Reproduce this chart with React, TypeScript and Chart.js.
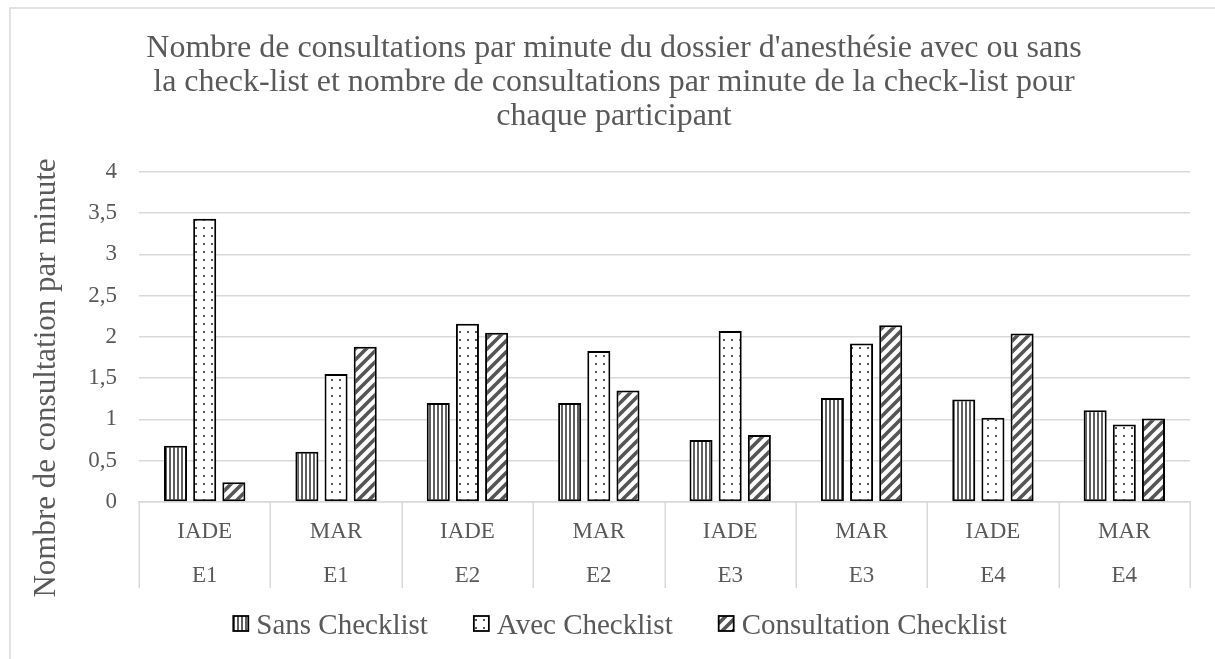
import React, { useEffect, useRef } from "react";
import { Chart, registerables } from "chart.js";

Chart.register(...registerables);

// ---------- data ----------
const roles = ["IADE", "MAR", "IADE", "MAR", "IADE", "MAR", "IADE", "MAR"];
const groups = ["E1", "E1", "E2", "E2", "E3", "E3", "E4", "E4"];
const sansChecklist = [0.68, 0.61, 1.2, 1.2, 0.75, 1.26, 1.24, 1.11];
const avecChecklist = [3.43, 1.55, 2.16, 1.83, 2.07, 1.92, 1.02, 0.94];
const consultationChecklist = [0.24, 1.88, 2.05, 1.35, 0.81, 2.14, 2.04, 1.01];
const seriesNames = ["Sans Checklist", "Avec Checklist", "Consultation Checklist"];
const titleLines = [
  "Nombre de consultations par minute du dossier d'anesthésie avec ou sans",
  "la check-list et nombre de consultations par minute de la check-list pour",
  "chaque participant",
];
const yAxisTitle = "Nombre de consultation par minute";
const yMin = 0;
const yMax = 4;
const yStep = 0.5;

// ---------- styles ----------
const FONT = '"Liberation Serif", "Times New Roman", serif';
const TEXT = "#595959";
const GRID = "#d9d9d9";
const PATTERN_INK = "#555555";

function makePattern(w: number, h: number, draw: (c: CanvasRenderingContext2D) => void) {
  const tile = document.createElement("canvas");
  tile.width = w;
  tile.height = h;
  const c = tile.getContext("2d")!;
  c.fillStyle = "#ffffff";
  c.fillRect(0, 0, w, h);
  draw(c);
  return c.createPattern(tile, "repeat")!;
}

function buildPatterns() {
  const vertical = makePattern(4, 4, (c) => {
    c.fillStyle = "#606060";
    c.fillRect(1, 0, 2, 4);
  });
  const dots = makePattern(8, 8, (c) => {
    c.fillStyle = PATTERN_INK;
    c.fillRect(3, 3, 2, 2);
  });
  const s = 11;
  const diagonal = makePattern(s, s, (c) => {
    c.strokeStyle = PATTERN_INK;
    c.lineWidth = 3.6;
    c.lineCap = "square";
    c.beginPath();
    c.moveTo(-2, 2);
    c.lineTo(2, -2);
    c.moveTo(-1, s + 1);
    c.lineTo(s + 1, -1);
    c.moveTo(s - 2, s + 2);
    c.lineTo(s + 2, s - 2);
    c.stroke();
  });
  return [vertical, dots, diagonal];
}

export default function App() {
  const ref = useRef<HTMLCanvasElement | null>(null);

  useEffect(() => {
    document.body.style.margin = "0";
    const canvas = ref.current!;
    const patterns = buildPatterns();

    const framePlugin = {
      id: "frame",
      beforeDraw(chart: any) {
        const ctx = chart.ctx as CanvasRenderingContext2D;
        ctx.save();
        ctx.fillStyle = "#ffffff";
        ctx.fillRect(0, 0, chart.width, chart.height);
        ctx.strokeStyle = GRID;
        ctx.lineWidth = 1.5;
        ctx.strokeRect(10, 8, 1400, 900);
        ctx.restore();
      },
    };

    const textPlugin = {
      id: "texts",
      afterDraw(chart: any) {
        const ctx = chart.ctx as CanvasRenderingContext2D;
        const xs = chart.scales.x;
        const area = chart.chartArea;
        ctx.save();
        // category separators
        ctx.strokeStyle = GRID;
        ctx.lineWidth = 1.5;
        ctx.beginPath();
        for (let i = 0; i <= roles.length; i++) {
          const x = Math.round(xs.getPixelForValue(i - 0.5)) + 0.25;
          ctx.moveTo(x, area.bottom);
          ctx.lineTo(x, 588);
        }
        ctx.stroke();

        // title
        ctx.fillStyle = TEXT;
        ctx.font = `32px ${FONT}`;
        ctx.textAlign = "center";
        ctx.textBaseline = "alphabetic";
        const baselines = [56.5, 90.5, 124.5];
        titleLines.forEach((t, i) => ctx.fillText(t, 614, baselines[i]));

        // y axis title
        ctx.save();
        ctx.translate(55, 378);
        ctx.rotate(-Math.PI / 2);
        ctx.font = `31px ${FONT}`;
        ctx.textAlign = "center";
        ctx.fillText(yAxisTitle, 0, 0);
        ctx.restore();

        // legend
        ctx.font = `29px ${FONT}`;
        ctx.textAlign = "left";
        const box = 15;
        const gapBT = 8;
        const gapItem = 46;
        const widths = seriesNames.map((n) => ctx.measureText(n).width);
        const total =
          widths.reduce((a, w) => a + box + gapBT + w, 0) + gapItem * (seriesNames.length - 1);
        let x = 620 - total / 2;
        seriesNames.forEach((n, i) => {
          ctx.fillStyle = patterns[i];
          ctx.fillRect(x, 616, box, box);
          ctx.strokeStyle = "#000000";
          ctx.lineWidth = 1.8;
          ctx.strokeRect(x, 616, box, box);
          ctx.fillStyle = TEXT;
          ctx.fillText(n, x + box + gapBT, 634);
          x += box + gapBT + widths[i] + gapItem;
        });
        ctx.restore();
      },
    };

    const seriesValues = [sansChecklist, avecChecklist, consultationChecklist];

    const chart = new Chart(canvas, {
      type: "bar",
      data: {
        labels: roles.map((r, i) => [r, groups[i]]),
        datasets: seriesNames.map((name, i) => ({
          label: name,
          data: seriesValues[i],
          backgroundColor: patterns[i],
          borderColor: "#000000",
          borderWidth: 2,
          borderSkipped: false,
          barPercentage: 0.79,
          categoryPercentage: 0.666,
        })),
      },
      options: {
        responsive: false,
        animation: false,
        devicePixelRatio: 1,
        layout: { padding: { left: 0, top: 171.7, right: 25, bottom: 57 } },
        plugins: {
          legend: { display: false },
          title: { display: false },
          tooltip: { enabled: false },
        },
        scales: {
          x: {
            type: "category",
            offset: true,
            grid: { display: false, drawTicks: false },
            border: { display: true, color: GRID, width: 1.5 },
            ticks: {
              color: TEXT,
              font: { family: FONT, size: 23, lineHeight: 44 / 23 },
              padding: 8,
              maxRotation: 0,
              autoSkip: false,
            },
            afterFit: (s: any) => {
              s.height = 100;
            },
          },
          y: {
            min: yMin,
            max: yMax,
            grid: { color: GRID, lineWidth: 1.5, drawTicks: false },
            border: { display: false },
            ticks: {
              stepSize: yStep,
              color: TEXT,
              font: { family: FONT, size: 23 },
              padding: 22,
              callback: (v: any) => String(v).replace(".", ","),
            },
            afterFit: (s: any) => {
              s.width = 139;
            },
          },
        },
      },
      plugins: [framePlugin, textPlugin],
    } as any);

    return () => chart.destroy();
  }, []);

  return <canvas ref={ref} width={1215} height={659} style={{ display: "block" }} />;
}
